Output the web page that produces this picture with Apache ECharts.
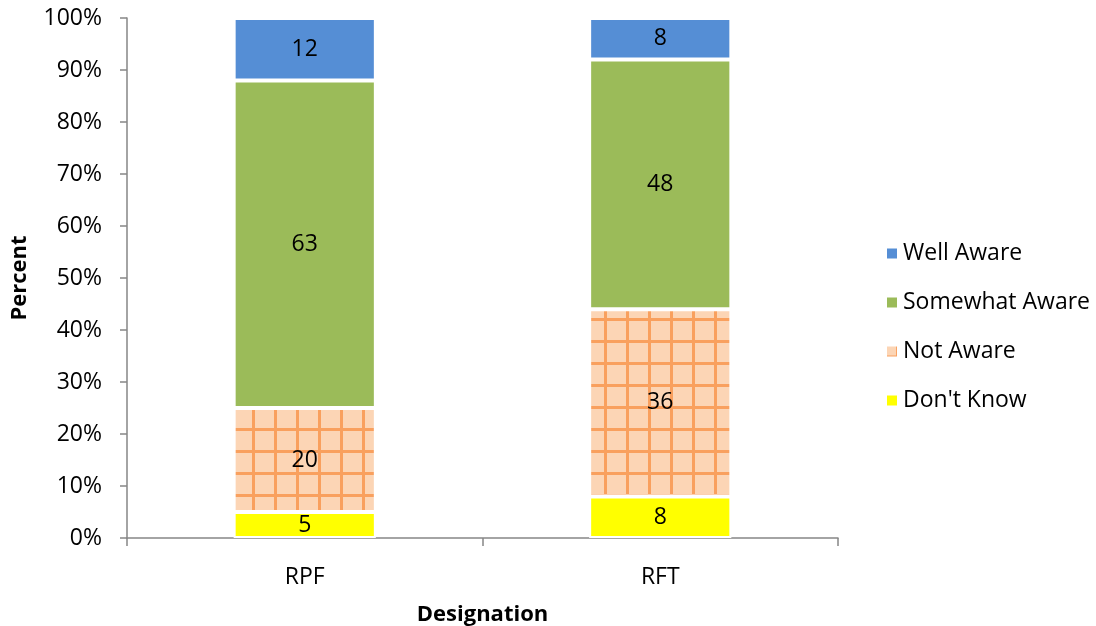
<!DOCTYPE html>
<html>
<head>
    <meta charset="utf-8">
    <title>Awareness by Designation</title>
    <script type="text/javascript" src="https://cdn.jsdelivr.net/npm/echarts@6/dist/echarts.min.js"></script>
</head>
<body style="margin:0">
    <div id="root" style="height: 626px;width: 1096px"></div>
<script type="text/javascript">
var categories = ['RPF', 'RFT'];
var dontKnow = [5, 8];
var notAware = [20, 36];
var somewhatAware = [63, 48];
var wellAware = [12, 8];
var yTicks = [0, 10, 20, 30, 40, 50, 60, 70, 80, 90, 100];

// peach grid hatch for "Not Aware"
var hatch = document.createElement('canvas');
hatch.width = 22;
hatch.height = 22;
var ctx = hatch.getContext('2d');
ctx.fillStyle = '#fcd5b5';
ctx.fillRect(0, 0, 22, 22);
ctx.fillStyle = '#f9a05e';
ctx.fillRect(10, 0, 3, 22);
ctx.fillRect(0, 10, 22, 3);

var myChart = echarts.init(document.getElementById('root'));
var font = '"Open Sans", Lato, sans-serif';

function bar(name, data, color) {
    return {
        name: name,
        type: 'bar',
        stack: 'total',
        barWidth: '40%',
        data: data,
        itemStyle: {
            color: color,
            borderColor: '#ffffff',
            borderWidth: 2
        },
        label: {
            show: true,
            position: 'inside',
            color: '#000',
            fontSize: 23,
            fontFamily: font
        }
    };
}

var option = {
    animation: false,
    textStyle: { fontFamily: font },
    grid: { left: 127, right: 258, top: 18, bottom: 88, containLabel: false, outerBoundsMode: 'none' },
    legend: {
        orient: 'vertical',
        left: 880,
        top: 234,
        itemGap: 20,
        itemWidth: 12,
        itemHeight: 12,
        icon: 'rect',
        textStyle: { fontSize: 23, color: '#000', fontFamily: font, lineHeight: 29 },
        data: ['Well Aware', 'Somewhat Aware', 'Not Aware', "Don't Know"]
    },
    xAxis: {
        type: 'category',
        data: categories,
        name: 'Designation',
        nameLocation: 'middle',
        nameGap: 66,
        nameTextStyle: { fontSize: 22, fontWeight: 'bold', color: '#000' },
        axisLine: { lineStyle: { color: '#868686', width: 1.5 } },
        axisTick: { show: true, length: 8, lineStyle: { color: '#868686', width: 1.5 } },
        axisLabel: { fontSize: 23, color: '#000', margin: 28 }
    },
    yAxis: {
        type: 'value',
        min: 0,
        max: 100,
        interval: 10,
        name: 'Percent',
        nameLocation: 'middle',
        nameGap: 96,
        nameTextStyle: { fontSize: 22, fontWeight: 'bold', color: '#000' },
        splitLine: { show: false },
        axisLine: { show: true, lineStyle: { color: '#868686', width: 1.5 } },
        axisTick: { show: true, length: 7, lineStyle: { color: '#868686', width: 1.5 } },
        axisLabel: {
            fontSize: 23,
            color: '#000',
            margin: 25,
            formatter: function (v) { return yTicks.indexOf(v) >= 0 ? v + '%' : ''; }
        }
    },
    series: [
        bar("Don't Know", dontKnow, '#ffff00'),
        bar('Not Aware', notAware, { image: hatch, repeat: 'repeat' }),
        bar('Somewhat Aware', somewhatAware, '#9bbb59'),
        bar('Well Aware', wellAware, '#558ed5')
    ]
};
myChart.setOption(option, true);
</script>
</body>
</html>
